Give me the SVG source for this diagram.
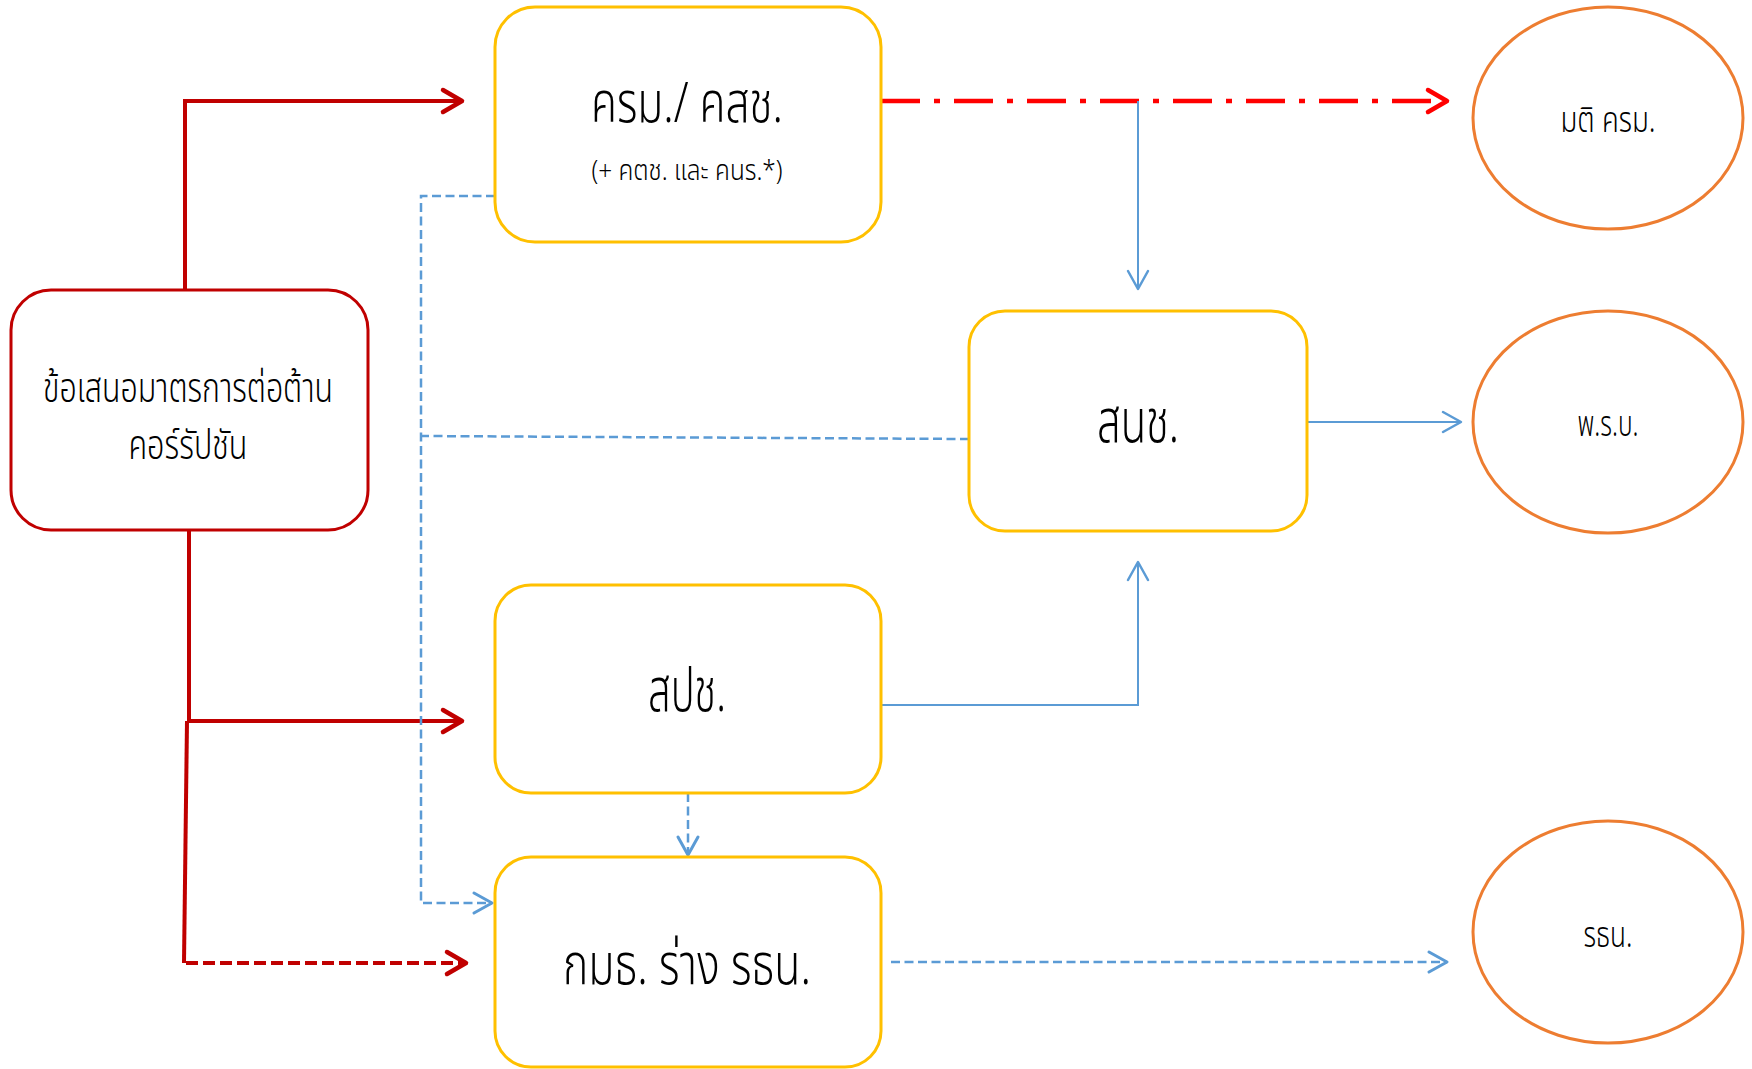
<svg xmlns="http://www.w3.org/2000/svg" width="1752" height="1069" viewBox="0 0 1752 1069">
<style>
.bg{fill:#ffffff}
.ybox{fill:#ffffff;stroke:#FFC000;stroke-width:3}
.rbox{fill:#ffffff;stroke:#C00000;stroke-width:3}
.ell{fill:#ffffff;stroke:#ED7D31;stroke-width:3}
.t{font-family:"Noto Sans Thai","Noto Sans","DejaVu Sans",sans-serif;font-weight:300;fill:#000000;text-anchor:middle}
.red{fill:none;stroke:#C00000;stroke-width:4}
.reddash{fill:none;stroke:#C00000;stroke-width:4;stroke-dasharray:12 5}
.dashdot{fill:none;stroke:#FF0000;stroke-width:4.5;stroke-dasharray:39 14 6 14}
.blue{fill:none;stroke:#5B9BD5;stroke-width:2}
.bluedash{fill:none;stroke:#5B9BD5;stroke-width:2.5;stroke-dasharray:9 4.5}
</style>
<defs>
<marker id="arRed" markerUnits="userSpaceOnUse" markerWidth="40" markerHeight="40" viewBox="-30 -20 40 40" refX="0" refY="0" orient="auto" overflow="visible">
<path d="M-19,-11 L0,0 L-19,11" fill="none" stroke="#C00000" stroke-width="4.5" stroke-linecap="round" stroke-linejoin="round"/>
</marker>
<marker id="arBright" markerUnits="userSpaceOnUse" markerWidth="40" markerHeight="40" viewBox="-30 -20 40 40" refX="0" refY="0" orient="auto" overflow="visible">
<path d="M-19,-11 L0,0 L-19,11" fill="none" stroke="#FF0000" stroke-width="4.5" stroke-linecap="round" stroke-linejoin="round"/>
</marker>
<marker id="arBlue" markerUnits="userSpaceOnUse" markerWidth="40" markerHeight="40" viewBox="-30 -20 40 40" refX="0" refY="0" orient="auto" overflow="visible">
<path d="M-18,-10 L0,0 L-18,10" fill="none" stroke="#5B9BD5" stroke-width="2.5" stroke-linecap="round" stroke-linejoin="round"/>
</marker>
<marker id="arBlueD" markerUnits="userSpaceOnUse" markerWidth="40" markerHeight="40" viewBox="-30 -20 40 40" refX="0" refY="0" orient="auto" overflow="visible">
<path d="M-18,-10 L0,0 L-18,10" fill="none" stroke="#5B9BD5" stroke-width="3" stroke-linecap="round" stroke-linejoin="round"/>
</marker>
</defs>
<rect class="bg" x="0" y="0" width="1752" height="1069"/>

<g id="connectors">
<polyline class="red" points="185,290 185,101 462,101" marker-end="url(#arRed)"/>
<polyline class="red" points="189,530 189,721 462,721" marker-end="url(#arRed)"/>
<polyline class="red" points="187,721 184,963"/>
<line class="reddash" x1="186" y1="963" x2="466" y2="963" marker-end="url(#arRed)"/>
<line class="dashdot" x1="881" y1="101" x2="1447" y2="101" marker-end="url(#arBright)"/>
<line class="blue" x1="1138" y1="101" x2="1138" y2="289" marker-end="url(#arBlue)"/>
<line class="blue" x1="1307" y1="422" x2="1461" y2="422" marker-end="url(#arBlue)"/>
<polyline class="blue" points="881,705 1138,705 1138,562" marker-end="url(#arBlue)"/>
<line class="bluedash" x1="688" y1="793" x2="688" y2="855" marker-end="url(#arBlueD)"/>
<line class="bluedash" x1="891" y1="962" x2="1447" y2="962" marker-end="url(#arBlueD)"/>
<polyline class="bluedash" points="495,196 421,196 421,903 492,903" marker-end="url(#arBlueD)"/>
<line class="bluedash" x1="969" y1="439" x2="421" y2="436"/>
</g>

<g id="node-proposal">
<rect class="rbox" x="11" y="290" width="357" height="240" rx="40" ry="40"/>
<text class="t" x="188" y="402" font-size="41" textLength="290" lengthAdjust="spacingAndGlyphs">ข้อเสนอมาตรการต่อต้าน</text>
<text class="t" x="188" y="459" font-size="41" textLength="119" lengthAdjust="spacingAndGlyphs">คอร์รัปชัน</text>
</g>

<g id="node-cabinet">
<rect class="ybox" x="495" y="7" width="386" height="235" rx="40" ry="40"/>
<text class="t" x="687" y="122" font-size="55" textLength="192" lengthAdjust="spacingAndGlyphs">ครม./ คสช.</text>
<text class="t" x="687" y="180" font-size="28" textLength="191" lengthAdjust="spacingAndGlyphs">(+ คตช. และ คนร.*)</text>
</g>

<g id="node-nla">
<rect class="ybox" x="969" y="311" width="338" height="220" rx="36" ry="36"/>
<text class="t" x="1138" y="442" font-size="60" textLength="82" lengthAdjust="spacingAndGlyphs">สนช.</text>
</g>

<g id="node-nrc">
<rect class="ybox" x="495" y="585" width="386" height="208" rx="36" ry="36"/>
<text class="t" x="687" y="711" font-size="60" textLength="78" lengthAdjust="spacingAndGlyphs">สปช.</text>
</g>

<g id="node-cdc">
<rect class="ybox" x="495" y="857" width="386" height="210" rx="36" ry="36"/>
<text class="t" x="687" y="984" font-size="58" textLength="248" lengthAdjust="spacingAndGlyphs">กมธ. ร่าง รธน.</text>
</g>

<g id="node-resolution">
<ellipse class="ell" cx="1608" cy="118" rx="135" ry="111"/>
<text class="t" x="1608" y="132" font-size="36" textLength="95" lengthAdjust="spacingAndGlyphs">มติ ครม.</text>
</g>

<g id="node-act">
<ellipse class="ell" cx="1608" cy="422" rx="135" ry="111"/>
<text class="t" x="1608" y="436" font-size="36" textLength="61" lengthAdjust="spacingAndGlyphs">พ.ร.บ.</text>
</g>

<g id="node-constitution">
<ellipse class="ell" cx="1608" cy="932" rx="135" ry="111"/>
<text class="t" x="1608" y="947" font-size="36" textLength="49" lengthAdjust="spacingAndGlyphs">รธน.</text>
</g>
</svg>
